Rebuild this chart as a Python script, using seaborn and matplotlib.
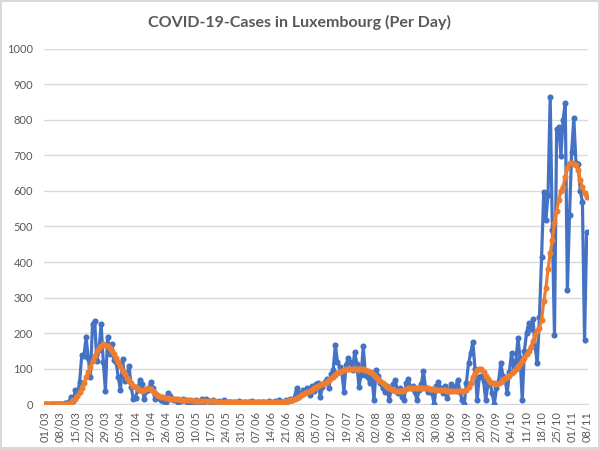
import matplotlib
matplotlib.use("Agg")
import matplotlib.pyplot as plt
import seaborn as sns
import numpy as np
import pandas as pd

# daily new cases
mar_cases = [0, 0, 0, 0, 0, 0, 0, 1, 1, 2, 2, 7, 19, 8, 40, 26, 63, 138, 135, 188,
             130, 77, 224, 234, 120, 152, 226, 119, 38, 190, 141]
apr_cases = [168, 125, 117, 75, 39, 127, 65, 81, 108, 47, 14, 18, 40, 68, 55, 15, 36, 40, 62, 45,
             14, 20, 16, 12, 8, 5, 30, 22, 15, 12]
may_cases = [10, 5, 8, 15, 12, 6, 3, 9, 2, 11, 7, 4, 15, 5, 13, 9, 3, 12, 6, 2,
             8, 4, 10, 3, 5, 7, 2, 6, 4, 8, 3]
jun_cases = [2, 6, 3, 5, 8, 4, 2, 7, 3, 5, 6, 4, 9, 3, 2, 8, 5, 10, 6, 4,
             12, 8, 15, 10, 20, 44, 30, 25, 40, 35]
jul_cases = [45, 25, 50, 38, 55, 60, 20, 48, 62, 70, 45, 85, 95, 166, 119, 105, 90, 35, 110, 131,
             119, 95, 147, 113, 49, 82, 162, 82, 75, 60, 80]
aug_cases = [11, 96, 80, 60, 45, 35, 50, 11, 40, 55, 68, 30, 45, 20, 11, 60, 70, 45, 50, 35,
             11, 40, 55, 93, 45, 35, 40, 30, 0, 50, 63]
sep_cases = [45, 30, 50, 16, 40, 55, 45, 50, 68, 35, 11, 0, 60, 115, 143, 176, 100, 11, 77, 80,
             65, 11, 55, 60, 30, 0, 45, 65, 115, 80]
oct_cases = [70, 30, 90, 143, 100, 120, 185, 130, 11, 150, 200, 228, 210, 240, 160, 115, 246, 415, 598, 518,
             590, 864, 490, 194, 774, 781, 699, 800, 849, 321, 532]
nov_cases = [711, 805, 678, 676, 600, 570, 180, 485]

# smoothed (orange) series, also
mar_avg = [0, 0, 0, 0, 0, 0, 0, 0, 0, 0, 0, 0, 5, 10, 14, 22, 33, 46, 58, 75,
           90, 105, 120, 136, 148, 158, 164, 168, 166, 162, 158]
apr_avg = [150, 141, 130, 118, 106, 94, 84, 74, 66, 58, 52, 47, 43, 40, 38, 39, 42, 44, 42, 36,
           31, 26, 23, 20, 19, 17, 16, 15, 14, 14]
may_avg = [13, 13, 12, 12, 11, 11, 10, 10, 9, 9, 8, 8, 8, 8, 8, 8, 8, 8, 8, 7,
           7, 7, 6, 6, 6, 5, 5, 5, 5, 5, 5]
jun_avg = [5, 5, 5, 5, 5, 5, 5, 5, 5, 5, 5, 5, 5, 5, 5, 6, 6, 6, 7, 7,
           8, 9, 10, 12, 14, 17, 21, 24, 27, 30]
jul_avg = [33, 36, 40, 44, 48, 51, 54, 57, 60, 63, 67, 72, 77, 82, 87, 91, 94, 96, 98, 99,
           100, 100, 99, 99, 100, 100, 99, 97, 94, 90, 86]
aug_avg = [82, 76, 70, 64, 58, 53, 49, 45, 42, 39, 37, 36, 37, 38, 40, 42, 44, 45, 46, 46,
           45, 45, 46, 46, 45, 44, 43, 42, 41, 40, 40]
sep_avg = [40, 39, 39, 38, 38, 38, 38, 38, 37, 37, 37, 37, 40, 48, 60, 75, 88, 97, 100, 98,
           90, 80, 70, 63, 60, 58, 57, 59, 63, 68]
oct_avg = [72, 76, 80, 86, 92, 98, 105, 112, 120, 130, 140, 150, 160, 178, 195, 205, 215, 237, 289, 326,
           380, 424, 462, 509, 545, 575, 600, 612, 640, 665, 678]
nov_avg = [678, 676, 673, 658, 630, 610, 593, 584]

dates = pd.date_range("2020-03-01", "2020-11-08", freq="D")
date_labels = dates.strftime("%d/%m").tolist()

cases = mar_cases + apr_cases + may_cases + jun_cases + jul_cases + aug_cases + sep_cases + oct_cases + nov_cases
avg = mar_avg + apr_avg + may_avg + jun_avg + jul_avg + aug_avg + sep_avg + oct_avg + nov_avg

df = pd.DataFrame({"day": np.arange(len(date_labels)), "cases": cases, "avg": avg})

sns.set_style("white")
plt.rcParams["font.family"] = ["Lato", "DejaVu Sans"]

txt = "#595959"
fig = plt.figure(figsize=(6, 4.49), dpi=100)
fig.patch.set_edgecolor("#D9D9D9")
fig.patch.set_linewidth(1.5)
ax = fig.add_axes([0.0733, 0.1002, 0.9067, 0.7907])

sns.lineplot(data=df, x="day", y="cases", ax=ax, color="#4472C4", linewidth=2.3,
             marker="o", markersize=4.4, markeredgewidth=0, zorder=3)
sns.lineplot(data=df, x="day", y="avg", ax=ax, color="#ED7D31", linewidth=2.3,
             marker="o", markersize=4.4, markeredgewidth=0, zorder=4)

ax.set_xlim(-0.6, len(date_labels) - 0.4)
ax.set_ylim(0, 1000)
ax.set_yticks(range(0, 1001, 100))
ax.set_xticks(df["day"][::7])
ax.set_xticklabels(date_labels[::7], rotation=90)
ax.grid(axis="y", color="#D9D9D9", linewidth=1)
ax.set_axisbelow(True)
ax.set_xlabel("")
ax.set_ylabel("")
for side in ["left", "top", "right"]:
    ax.spines[side].set_visible(False)
ax.spines["bottom"].set_color("#D9D9D9")
ax.tick_params(axis="y", length=0, pad=8, labelsize=8, labelcolor=txt)
ax.tick_params(axis="x", length=0, pad=5, labelsize=8, labelcolor=txt)

fig.suptitle("COVID-19-Cases in Luxembourg (Per Day)", y=0.951, va="center",
             fontsize=11.5, fontweight="bold", color=txt)

fig.savefig("out.png", dpi=100, edgecolor=fig.get_edgecolor())
